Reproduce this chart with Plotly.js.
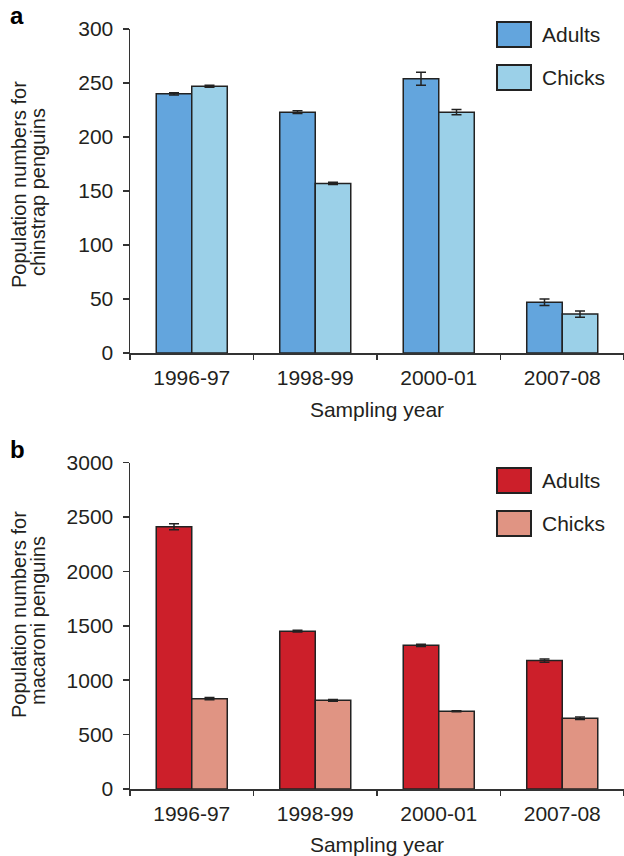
<!DOCTYPE html>
<html>
<head>
<meta charset="utf-8">
<script src="https://cdn.plot.ly/plotly-3.0.1.min.js"></script>
<style>html,body{margin:0;padding:0;background:#fff}#chart{width:624px;height:856px}</style>
</head>
<body>
<div id="chart"></div>
<script>
const years = ["1996-97", "1998-99", "2000-01", "2007-08"];
const chinstrapAdults = [240, 223, 254, 47];
const chinstrapAdultsErr = [1, 1.2, 6, 3];
const chinstrapChicks = [247, 157, 223, 36];
const chinstrapChicksErr = [1, 1, 2.5, 3];
const macaroniAdults = [2410, 1450, 1320, 1180];
const macaroniAdultsErr = [28, 8, 10, 15];
const macaroniChicks = [830, 815, 715, 650];
const macaroniChicksErr = [10, 8, 5, 12];
const seriesNames = ["Adults", "Chicks"];
const chinstrapTitle = ["Population numbers for", "chinstrap penguins"];
const macaroniTitle = ["Population numbers for", "macaroni penguins"];
const xTitle = "Sampling year";

const FONT = "Liberation Sans, Arial, sans-serif";
const TXT = "#231f20";
const FS = 21;
const colA1 = "#63a5dd", colC1 = "#9bd0e8", colA2 = "#cc1f2a", colC2 = "#e09483";
const outline = {color: "#222", width: 1.5};

function bar(x, y, err, name, color, xa, ya) {
  return {
    type: "bar", x: x, y: y, name: name, xaxis: xa, yaxis: ya,
    marker: {color: color, line: outline},
    error_y: {type: "data", array: err, visible: true, color: "#222", thickness: 1.5, width: 5},
    showlegend: false, hoverinfo: "x+y"
  };
}

const data = [
  bar(years, chinstrapAdults, chinstrapAdultsErr, seriesNames[0], colA1, "x", "y"),
  bar(years, chinstrapChicks, chinstrapChicksErr, seriesNames[1], colC1, "x", "y"),
  bar(years, macaroniAdults, macaroniAdultsErr, seriesNames[0], colA2, "x2", "y2"),
  bar(years, macaroniChicks, macaroniChicksErr, seriesNames[1], colC2, "x2", "y2")
];

const W = 624, H = 856, L = 130, R = 0, T = 29, B = 67;
const pw = W - L - R, ph = H - T - B;
const px = v => (v - L) / pw;
const py = v => (H - B - v) / ph;

function xaxis(anchor) {
  return {
    anchor: anchor, domain: [0, 1], type: "category", range: [-0.5, 3.5],
    showline: true, linecolor: "#333", linewidth: 1.5,
    ticks: "outside", tickson: "boundaries", ticklen: 5, tickwidth: 1.5, tickcolor: "#333",
    ticklabelstandoff: 5,
    tickfont: {family: FONT, size: FS, color: TXT},
    title: {text: xTitle, font: {family: FONT, size: FS, color: TXT}, standoff: 14},
    showgrid: false, zeroline: false, fixedrange: true
  };
}
function yaxis(anchor, domain, range, dtick) {
  return {
    anchor: anchor, domain: domain, range: range, dtick: dtick,
    showline: true, linecolor: "#333", linewidth: 1.5,
    ticks: "outside", ticklen: 6, tickwidth: 1.5, tickcolor: "#333",
    ticklabelstandoff: 5,
    tickfont: {family: FONT, size: FS, color: TXT},
    showgrid: false, zeroline: false, fixedrange: true
  };
}

const legendBoxes = [
  {y0: 22, y1: 47, c: colA1, label: seriesNames[0]},
  {y0: 65, y1: 90, c: colC1, label: seriesNames[1]},
  {y0: 468, y1: 493, c: colA2, label: seriesNames[0]},
  {y0: 511, y1: 536, c: colC2, label: seriesNames[1]}
];
const shapes = legendBoxes.map(b => ({
  type: "rect", xref: "paper", yref: "paper",
  x0: px(497), x1: px(531), y0: py(b.y1), y1: py(b.y0),
  fillcolor: b.c, line: {color: "#222", width: 2}
}));
const annotations = legendBoxes.map(b => ({
  xref: "paper", yref: "paper", x: px(540), y: py((b.y0 + b.y1) / 2),
  xanchor: "left", yanchor: "middle", text: b.label, showarrow: false,
  font: {family: FONT, size: FS, color: TXT}
}));
annotations.push(
  {xref: "paper", yref: "paper", x: px(8), y: py(0), xanchor: "left", yanchor: "top",
   text: "<b>a</b>", showarrow: false, font: {family: FONT, size: 24, color: "#000"}},
  {xref: "paper", yref: "paper", x: px(8), y: py(434), xanchor: "left", yanchor: "top",
   text: "<b>b</b>", showarrow: false, font: {family: FONT, size: 24, color: "#000"}}
);
const ytitles = [
  {lines: chinstrapTitle, cy: [185, 192]},
  {lines: macaroniTitle, cy: [615, 621]}
];
const lineX = [19, 38];
ytitles.forEach(t => t.lines.forEach((ln, i) => annotations.push({
  xref: "paper", yref: "paper", x: px(lineX[i]), y: py(t.cy[i]),
  xanchor: "center", yanchor: "middle", textangle: -90, text: ln, showarrow: false,
  font: {family: FONT, size: 20, color: TXT}
})));

const layout = {
  width: W, height: H,
  margin: {l: L, r: R, t: T, b: B, pad: 0},
  paper_bgcolor: "#fff", plot_bgcolor: "#fff",
  barmode: "group", bargap: 0.425, bargroupgap: 0,
  showlegend: false,
  xaxis: xaxis("y"),
  yaxis: yaxis("x", [1 - 324 / ph, 1], [0, 300], 50),
  xaxis2: xaxis("y2"),
  yaxis2: yaxis("x2", [0, 1 - 433.5 / ph], [0, 3000], 500),
  shapes: shapes, annotations: annotations,
  font: {family: FONT, color: TXT}
};

Plotly.newPlot("chart", data, layout, {staticPlot: true, displayModeBar: false});
</script>
</body>
</html>
